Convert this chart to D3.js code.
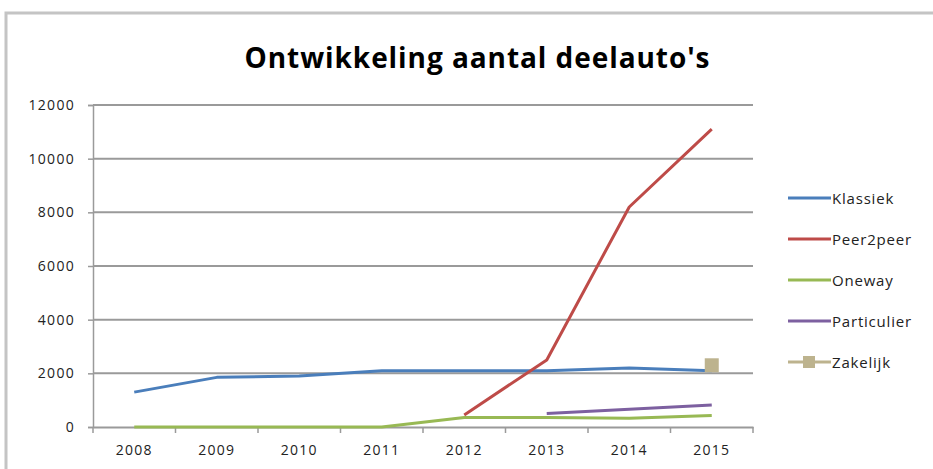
<!DOCTYPE html>
<html><head><meta charset="utf-8">
<script src="https://cdn.jsdelivr.net/npm/d3@7"></script>
<style>body{margin:0;background:#fff;overflow:hidden}svg{display:block}</style>
</head><body>
<svg id="c" width="933" height="469"></svg>
<script>
const years = ["2008","2009","2010","2011","2012","2013","2014","2015"];
const klassiek    = [1300,1850,1900,2100,2100,2100,2200,2100];
const peer2peer   = [null,null,null,null,450,2500,8200,11100];
const oneway      = [0,0,0,0,350,350,330,430];
const particulier = [null,null,null,null,null,500,660,820];
const zakelijk    = [null,null,null,null,null,null,null,2300];
const yTicks = [0,2000,4000,6000,8000,10000,12000];
const seriesNames = ["Klassiek","Peer2peer","Oneway","Particulier","Zakelijk"];
const seriesColors = ["#4A7EBB","#BE4B48","#98B954","#7D60A0","#BDB38E"];
const title = "Ontwikkeling aantal deelauto's";

const series = [klassiek, peer2peer, oneway, particulier, zakelijk];
const svg = d3.select("#c");
const font = "'Open Sans', Lato, sans-serif";

// outer frame
svg.append("rect").attr("x",6).attr("y",13).attr("width",980).attr("height",500)
  .attr("fill","#fff").attr("stroke","#c4c4c4").attr("stroke-width",3);

const x = d3.scaleBand().domain(years).range([93,753]);
const y = d3.scaleLinear().domain([0,12000]).range([427,105]);

// gridlines
svg.append("g").selectAll("line").data(yTicks.filter(d=>d>0)).join("line")
  .attr("x1",93).attr("x2",753).attr("y1",d=>y(d)).attr("y2",d=>y(d))
  .attr("stroke","#9a9a9a").attr("stroke-width",2);

// y axis
const ya = svg.append("g").attr("transform","translate(93,0)")
  .call(d3.axisLeft(y).tickValues(yTicks).tickSize(5).tickPadding(13).tickFormat(d3.format("d")));
ya.select(".domain").attr("stroke","#9a9a9a").attr("stroke-width",1.5);
ya.selectAll(".tick line").attr("stroke","#9a9a9a").attr("stroke-width",1.5);
ya.selectAll("text").attr("font-family",font).attr("font-size",14).attr("letter-spacing",1.3).attr("fill","#222");

// x axis
const xa = svg.append("g").attr("transform","translate(0,427)")
  .call(d3.axisBottom(x).tickSize(0).tickPadding(18));
xa.select(".domain").attr("stroke","#9a9a9a").attr("stroke-width",2);
xa.selectAll("text").attr("font-family",font).attr("font-size",14).attr("letter-spacing",1.3).attr("fill","#222");
svg.append("g").selectAll("line").data(years.concat(["end"])).join("line")
  .attr("x1",(d,i)=>93+i*x.bandwidth()).attr("x2",(d,i)=>93+i*x.bandwidth())
  .attr("y1",427).attr("y2",433).attr("stroke","#9a9a9a").attr("stroke-width",1.5);

// lines
const line = d3.line().defined(d=>d.v!==null)
  .x(d=>x(d.yr)+x.bandwidth()/2).y(d=>y(d.v));
const order = [0,2,1,3,4];
order.forEach(si=>{
  const pts = years.map((yr,i)=>({yr, v: series[si][i]}));
  svg.append("path").datum(pts).attr("d",line).attr("fill","none")
    .attr("stroke",seriesColors[si]).attr("stroke-width",3).attr("stroke-linejoin","round");
  svg.append("g").selectAll("rect").data(si===4 ? pts.filter(d=>d.v!==null) : []).join("rect")
    .attr("x",d=>x(d.yr)+x.bandwidth()/2-7).attr("y",d=>y(d.v)-7)
    .attr("width",14).attr("height",14).attr("fill",seriesColors[si]);
});

// title
svg.append("text").attr("x",477).attr("y",68).attr("text-anchor","middle")
  .attr("font-family",font).attr("font-weight","bold").attr("font-size",28)
  .attr("textLength",465).attr("lengthAdjust","spacing")
  .attr("fill","#000").text(title);

// legend
const lg = svg.append("g").selectAll("g").data(seriesNames).join("g")
  .attr("transform",(d,i)=>`translate(788,${198+i*41})`);
lg.append("line").attr("x1",0).attr("x2",43).attr("y1",0).attr("y2",0)
  .attr("stroke",(d,i)=>seriesColors[i]).attr("stroke-width",3);
lg.filter((d,i)=>i===4).append("rect").attr("x",15).attr("y",-6).attr("width",12).attr("height",12)
  .attr("fill",seriesColors[4]);
lg.append("text").attr("x",44).attr("y",5.5).attr("font-family",font).attr("font-size",15)
  .attr("letter-spacing",0.8).attr("fill","#222").text(d=>d);
</script>
</body></html>
